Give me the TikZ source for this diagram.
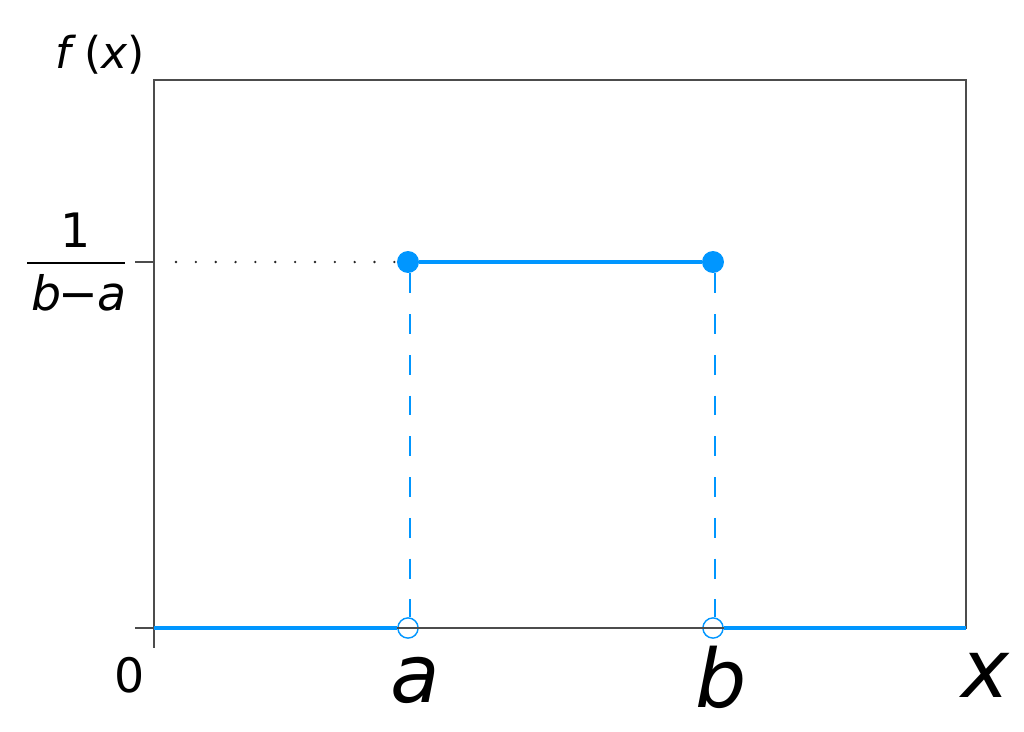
\documentclass[tikz,border=0pt]{standalone}
\usepackage{fontspec}
\setmainfont{DejaVu Sans}
\usetikzlibrary{positioning}
\definecolor{pdfblue}{RGB}{0,150,255}

\begin{document}
\begin{tikzpicture}[x=0.02cm,y=-0.02cm,
  frame/.style={draw=black!70,line width=0.8pt},
  pdf/.style={draw=pdfblue,line width=2.4pt},
  guide/.style={draw=pdfblue,line width=1.15pt,dash pattern=on 11.3pt off 11.9pt},
  dots/.style={draw=black!85,line width=1.5pt,line cap=round,dash pattern=on 0pt off 11.3pt},
  fdot/.style={circle,fill=pdfblue,inner sep=0pt,minimum size=12.5pt},
  odot/.style={circle,draw=pdfblue,fill=white,line width=0.8pt,inner sep=0pt,minimum size=11.5pt},
  lbl/.style={inner sep=0pt,font=\fontsize{27pt}{30pt}\selectfont},
  big/.style={inner sep=0pt,font=\fontsize{46pt}{50pt}\selectfont\itshape}]
\useasboundingbox (0,0) rectangle (1024,731);

\coordinate (O) at (154,628);
\coordinate (TR) at (966,80);
\coordinate (BR) at (966,628);
\coordinate (Y1) at (154,262);
\coordinate (Y1t) at (135,262);
\coordinate (Ot) at (135,628);
\coordinate (Xt) at (154,648);
\coordinate (D1) at (176,262);
\coordinate (fl) at (27,263);
\coordinate (fr) at (125,263);

\node[fdot] (a1) at (408,262) {};
\node[fdot] (b1) at (713,262) {};
\node[odot] (a0) at (408,628) {};
\node[odot] (b0) at (713,628) {};

\node[lbl,font=\fontsize{25pt}{28pt}\selectfont] (fx) at (100,55) {{\itshape f} ({\itshape x})};
\node[lbl] (one) at (76,230) {1};
\node[lbl,font=\fontsize{27pt}{30pt}\selectfont\itshape] (bma) at (79,293) {b\kern-2pt−\kern-0.5pt a};
\node[lbl] (zero) at (130,675) {0};
\node[big] (a) at (415,680) {a};
\node[big] (b) at (721,677) {b};
\node[big] (x) at (985,675) {x};

\draw[frame] (O) rectangle (TR);
\draw[frame] (Y1t) -- (Y1);
\draw[frame] (Ot) -- (O) -- (Xt);
\draw[line width=1.3pt] (fl) -- (fr);
\draw[dots] (D1) -- (a1);

\draw[guide] ([xshift=2*0.02cm]a1.south) -- ([xshift=2*0.02cm]a0.north);
\draw[guide] ([xshift=2*0.02cm]b1.south) -- ([xshift=2*0.02cm]b0.north);
\draw[pdf] (a1) -- (b1);
\draw[pdf] (O) -- (a0);
\draw[pdf] (b0) -- (BR);
\end{tikzpicture}
\end{document}
